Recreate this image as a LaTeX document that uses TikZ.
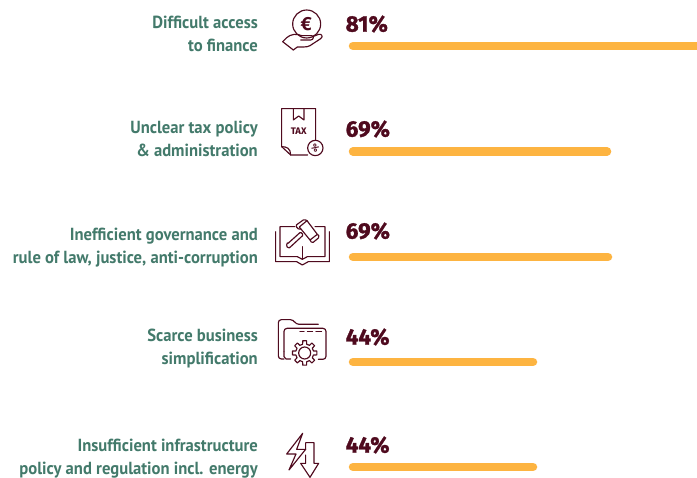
\documentclass[tikz,border=0pt]{standalone}
\usepackage{fontspec}
\setmainfont[FakeStretch=0.95]{PT Sans}
\newfontfamily\pctfont[FakeBold=1.2]{Fira Sans}
\newfontfamily\iconfont{Fira Sans}
\usetikzlibrary{calc}
\definecolor{labelgreen}{HTML}{437A6B}
\definecolor{maroon}{HTML}{4F0A1E}
\definecolor{barorange}{HTML}{FDB441}
\tikzset{
  rowlabel/.style={anchor=east,align=right,text=labelgreen,inner sep=0pt,font=\fontsize{17.5}{23}\selectfont\bfseries},
  pct/.style={anchor=west,text=maroon,inner sep=0pt,font=\fontsize{22.5}{24}\pctfont\bfseries},
  bar/.style={line width=8.5pt,line cap=round,draw=barorange},
  ico/.style={draw=maroon,line width=1.15pt,line join=round,line cap=round},
  icotext/.style={text=maroon,inner sep=0pt},
  icon/.style={x=.3333pt,y=-.3333pt}
}
\begin{document}
\begin{tikzpicture}[x=1pt,y=-1pt]
\useasboundingbox (0,0) rectangle (697,478);
\fill[white] (0,0) rectangle (697,478);
% labels
\node[rowlabel] (l1) at (258,34) {Difficult access\\to finance};
\node[rowlabel] (l2) at (258,139) {Unclear tax policy\\\& administration};
\node[rowlabel] (l3) at (258,248) {Inefficient governance and\\rule of law, justice, anti-corruption};
\node[rowlabel] (l4) at (258,348.5) {Scarce business\\simplification};
\node[rowlabel] (l5) at (258,458.5) {Insufficient infrastructure\\policy and regulation incl. energy};
% percentages
\node[pct] (p1) at (345.5,24) {81\%};
\node[pct] (p2) at (345.5,129) {69\%};
\node[pct] (p3) at (345.5,231) {69\%};
\node[pct] (p4) at (345.5,337) {44\%};
\node[pct] (p5) at (345.5,445) {44\%};
% bars
\draw[bar] (353,46) -- (700,46);
\draw[bar] (353,151.5) -- (607,151.5);
\draw[bar] (353,257) -- (608,257);
\draw[bar] (353,362) -- (533,362);
\draw[bar] (353,467) -- (533,467);
% icon 1: euro in hand
\begin{scope}[shift={(260,0)},icon]
\draw[ico] (140,72) circle (42);
\node[icotext,font=\fontsize{19}{19}\iconfont\bfseries] (euro) at (139,72) {€};
\draw[ico] (68,125) -- (80,113) .. controls (92,102) and (112,100) .. (125,107) -- (155,107)
  .. controls (162,107) and (162,120) .. (152,120) -- (122,120);
\draw[ico] (158,110) -- (176,103) .. controls (186,101) and (190,110) .. (182,116)
  -- (150,137) .. controls (140,143) and (125,140) .. (112,141) -- (100,150);
\draw[ico] (68,125) -- (100,150);
\end{scope}
% icon 2: tax document
\begin{scope}[shift={(260,0)},icon]
\draw[ico] (143,465) -- (92,465) -- (65,440) -- (65,326) -- (167,326) -- (167,421);
\draw[ico] (65,440) .. controls (80,440) and (92,445) .. (92,465);
\draw[ico] (100,326) -- (100,360) -- (116,348) -- (132,360) -- (132,326);
\node[icotext,font=\fontsize{9.5}{10}\iconfont\bfseries] (taxword) at (116,393) {TAX};
\draw[ico] (166,444) circle (23);
\node[icotext,rotate=-45,font=\fontsize{9}{9}\iconfont\bfseries] (taxpct) at (166,444) {\%};
\end{scope}
% icon 3: gavel on book
\begin{scope}[shift={(260,205)},icon]
\draw[ico] (47,80) -- (47,170) -- (110,170) -- (127,180) -- (145,170) -- (208,170) -- (208,80);
\draw[ico] (105,65) -- (60,65) -- (60,155) -- (112,155) -- (127,163) -- (142,155) -- (195,155) -- (195,65) -- (165,65);
\draw[ico] (127,125) -- (127,163);
\draw[ico,rounded corners=1pt] (82,117) -- (122,81) -- (130,90) -- (90,127) .. controls (84,131) and (77,123) .. (82,117) -- cycle;
\draw[ico,rounded corners=1.5pt,fill=white] (106,62) -- (134,42) -- (146,52) -- (118,75) -- cycle;
\draw[ico,rounded corners=1.5pt,fill=white] (148,101) -- (172,86) -- (179,96) -- (156,115) -- cycle;
\draw[ico,fill=white] (118,66) -- (141,47) -- (172,88) -- (150,105) -- cycle;
\end{scope}
% icon 4: folder with gear
\begin{scope}[shift={(260,205)},icon]
\draw[ico,rounded corners=3pt] (72,462) -- (55,462) -- (55,344) -- (100,344) -- (108,358) -- (175,358);
\draw[ico,rounded corners=3pt] (72,440) -- (72,370) -- (198,370) -- (198,463) -- (175,463);
\draw[ico] (72,440) -- (72,455) -- (78,462) -- (92,462);
\draw[ico] (120,380) -- (132,380) (142,380) -- (158,380) (168,380) -- (185,380);
\draw[ico] (134,444) circle (18);
\draw[ico]
  \foreach \a in {0,45,...,315} {
    ($(134,444)+(\a-13:27)$) -- ($(134,444)+(\a-9:37)$) -- ($(134,444)+(\a+9:37)$) -- ($(134,444)+(\a+13:27)$)
    -- ($(134,444)+(\a+32:27)$)
  };
\end{scope}
% icon 5: bolt and arrow
\begin{scope}[shift={(260,420)},icon]
\draw[ico] (128,40) -- (80,102) -- (108,102) -- (87,150) -- (137,88) -- (110,88) -- cycle;
\draw[ico] (137,88) -- (137,68) -- (162,68) -- (162,130) -- (176,130) -- (150,172) -- (122,130) -- (137,130) -- (137,105);
\end{scope}
\end{tikzpicture}
\end{document}
